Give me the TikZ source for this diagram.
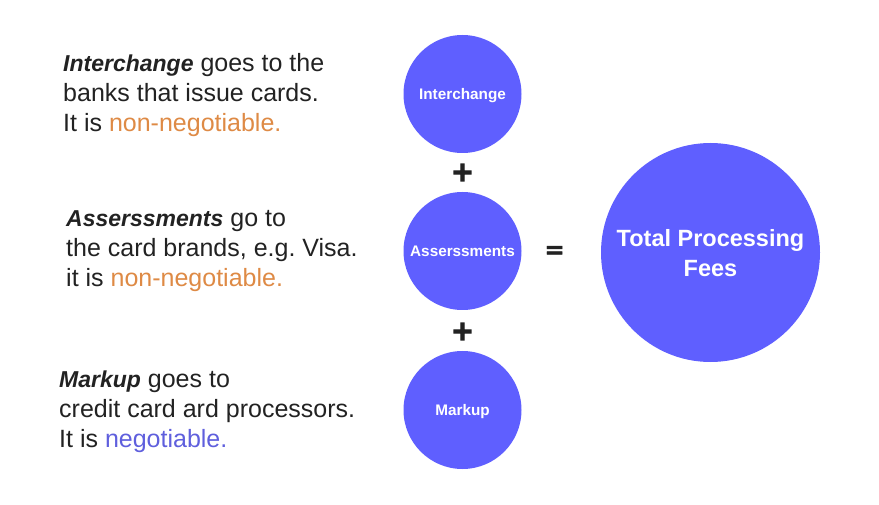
\documentclass[tikz,border=0pt]{standalone}
\usepackage{fontspec}
\setmainfont{Liberation Sans}
\newfontfamily\signfont[FakeBold=5]{DejaVu Sans Bold}
\newfontfamily\equalsfont[FakeBold=2]{DejaVu Sans Bold}
\usepackage{tikz}
\usetikzlibrary{positioning}
\definecolor{circleblue}{HTML}{5F5FFF}
\definecolor{warnorange}{HTML}{DE8A45}
\definecolor{okblue}{HTML}{5F5FDD}
\definecolor{inkblack}{HTML}{222222}
\newcommand{\leadword}[1]{{\fontsize{23}{30}\selectfont\textbf{\textit{#1}}}}
\newcommand{\lowered}[2]{\raisebox{-#1pt}[\height][\depth]{#2}}
\tikzset{
    feecircle/.style={circle, fill=circleblue, text=white, inner sep=0pt, font=\bfseries\fontsize{15.3}{17}\selectfont},
    sidetext/.style={align=left, anchor=west, inner sep=0pt, text=inkblack, font=\frenchspacing\fontsize{25}{30}\selectfont},
    opsign/.style={text=inkblack, font=\signfont\fontsize{27}{27}\selectfont, inner sep=0pt}
}

\begin{document}
\begin{tikzpicture}[x=1pt,y=-1pt]

\useasboundingbox (0,0) rectangle (879,505);

% Circles
\node[feecircle, minimum size=118pt] (interchange) at (462.5,94) {\lowered{2}{Interchange}};
\node[feecircle, minimum size=118pt] (assessments) at (462.5,251) {Asserssments};
\node[feecircle, minimum size=118pt] (markup) at (462.5,410) {\lowered{2}{Markup}};
\node[feecircle, minimum size=219pt, align=center, font=\bfseries\fontsize{23.5}{30}\selectfont] (total) at (710.5,252.5) {\lowered{1}{Total Processing}\\\lowered{1}{Fees}};

% Signs
\node[opsign] (plusa) at (462.5,172.5) {+};
\node[opsign] (plusb) at (462.5,331.5) {+};
\node[opsign, font=\equalsfont\fontsize{24}{24}\selectfont] (equals) at (554.5,252) {=};

% Left text
\node[sidetext] (textinterchange) at (63,95.5) {\leadword{Interchange} goes to the\\banks that issue cards.\\It is \textcolor{warnorange}{non-negotiable.}};
\node[sidetext] (textassessments) at (66,251.5) {\leadword{Asserssments} go to\\the card brands, e.g. Visa.\\it is \textcolor{warnorange}{non-negotiable.}};
\node[sidetext] (textmarkup) at (59,411.5) {\leadword{Markup} goes to\\credit card ard processors.\\It is \textcolor{okblue}{negotiable.}};

\end{tikzpicture}
\end{document}
